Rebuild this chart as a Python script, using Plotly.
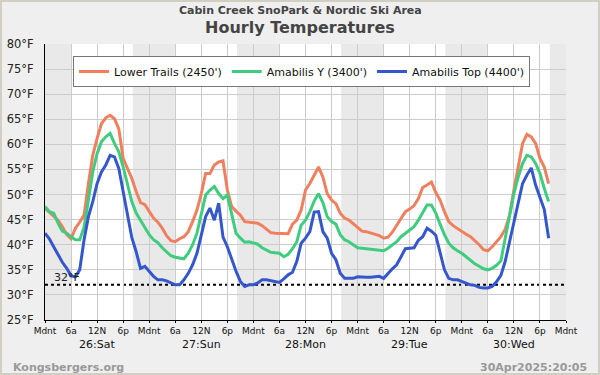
import pandas as pd
import plotly.graph_objects as go

# ---------------- data ----------------
start_time = "2025-04-26 00:00"
end_time = "2025-05-01 00:00"

lower_trails = [
    47.3, 46.5, 45.9, 44.9, 43.6, 42.0, 41.2, 43.3, 44.5, 45.9, 52.2, 57.8,
    61.2, 64.1, 65.3, 65.8, 65.1, 63.1, 57.2, 55.2, 53.2, 50.6, 48.4, 48.0,
    46.6, 45.3, 44.5, 43.3, 41.8, 40.8, 40.6, 41.2, 41.6, 42.6, 44.6, 46.9,
    50.2, 54.2, 54.2, 55.9, 56.5, 56.7, 50.9, 47.6, 46.7, 45.9, 44.6, 44.5,
    44.5, 44.3, 43.8, 43.1, 42.4, 42.3, 42.3, 42.2, 42.2, 44.1, 44.9, 46.9,
    50.9, 52.2, 53.9, 55.5, 53.5, 50.2, 48.9, 48.2, 46.3, 45.3, 44.9, 44.1,
    43.3, 42.7, 42.6, 42.3, 42.1, 41.8, 41.3, 41.5, 42.5, 43.8, 45.3, 46.6,
    47.1, 47.8, 49.2, 51.4, 51.9, 52.5, 50.4, 48.9, 46.6, 44.6, 43.8, 43.2,
    42.7, 42.1, 41.6, 40.8, 40.0, 39.0, 38.8, 39.6, 40.5, 41.6, 43.1, 45.9,
    50.9, 55.5, 60.2, 62.0, 61.5, 60.2, 57.2, 55.5, 52.2,
]
amabilis_y = [
    47.6, 46.6, 46.3, 44.3, 42.7, 42.3, 41.6, 41.0, 41.0, 43.5, 48.9, 54.5,
    58.2, 60.5, 61.5, 62.2, 60.2, 58.5, 55.5, 52.2, 48.6, 46.3, 44.9, 43.6,
    42.0, 41.0, 40.4, 39.4, 38.5, 37.8, 37.5, 37.3, 37.2, 38.3, 40.0, 42.3,
    46.3, 49.9, 50.9, 51.6, 50.2, 49.2, 49.9, 45.9, 42.3, 41.3, 40.5, 40.6,
    40.3, 40.1, 39.4, 38.9, 38.5, 38.4, 38.3, 37.6, 38.1, 39.2, 40.6, 43.9,
    44.9, 46.6, 48.7, 50.2, 48.4, 45.6, 44.6, 44.1, 42.0, 41.0, 40.6, 40.0,
    39.4, 39.3, 39.2, 39.0, 39.0, 38.9, 38.8, 39.3, 40.0, 40.6, 41.6, 42.3,
    42.9, 43.6, 44.9, 46.5, 47.9, 47.9, 46.3, 44.1, 42.0, 40.3, 39.4, 38.8,
    38.3, 37.6, 36.9, 36.2, 35.7, 35.2, 35.0, 35.3, 35.9, 36.8, 41.3, 45.9,
    50.2, 53.5, 56.2, 57.8, 57.5, 56.2, 54.2, 51.2, 48.6,
]
amabilis_top = [
    42.3, 41.2, 39.6, 38.0, 36.5, 35.3, 33.8, 33.6, 35.0, 41.0, 45.6, 48.6,
    52.2, 54.5, 55.9, 57.8, 57.5, 55.2, 50.6, 45.3, 41.4, 38.6, 35.3, 35.7,
    34.7, 33.7, 33.0, 33.0, 32.8, 32.4, 32.0, 32.0, 33.0, 34.3, 36.0, 38.3,
    42.3, 45.6, 47.3, 44.9, 48.3, 41.5, 39.6, 37.0, 34.7, 32.7, 31.7, 32.0,
    32.0, 32.4, 33.0, 33.0, 32.8, 32.7, 32.5, 33.2, 34.0, 34.5, 36.7, 40.3,
    41.3, 42.6, 46.5, 46.6, 42.6, 41.3, 38.3, 37.0, 34.3, 33.3, 33.3, 33.3,
    33.6, 33.5, 33.5, 33.5, 33.6, 33.7, 33.3, 34.3, 35.2, 36.0, 37.6, 39.2,
    39.3, 39.4, 40.9, 41.6, 43.3, 42.7, 41.9, 38.6, 35.0, 33.3, 33.0, 33.0,
    32.7, 32.4, 32.0, 31.9, 31.5, 31.4, 31.4, 31.7, 32.6, 33.9, 36.7, 40.6,
    44.7, 48.6, 52.2, 53.9, 55.3, 51.9, 49.6, 47.0, 41.3,
]

series_names = ["Lower Trails (2450')", "Amabilis Y (3400')", "Amabilis Top (4400')"]
series_colors = ["#F07F5E", "#40CC7F", "#3557CC"]

hour_tick_labels = ["Mdnt", "6a", "12N", "6p"]
day_labels = ["26:Sat", "27:Sun", "28:Mon", "29:Tue", "30:Wed"]
day_noons = ["2025-04-26 12:00", "2025-04-27 12:00", "2025-04-28 12:00",
             "2025-04-29 12:00", "2025-04-30 12:00"]
sunrises = ["2025-04-26 06:02", "2025-04-27 06:00", "2025-04-28 05:59",
            "2025-04-29 05:58", "2025-04-30 05:57"]
sunsets = ["2025-04-26 20:14", "2025-04-27 20:13", "2025-04-28 20:13",
           "2025-04-29 20:13", "2025-04-30 20:16"]
y_ticks = [25, 30, 35, 40, 45, 50, 55, 60, 65, 70, 75, 80]
freezing_f = 32

title_text = "Hourly Temperatures"
subtitle_text = "Cabin Creek SnoPark &amp; Nordic Ski Area"
site_text = "Kongsbergers.org"
stamp_text = "30Apr2025:20:05"

# ---------------- figure ----------------
times = pd.date_range(start_time, periods=len(lower_trails), freq="h")
tick_vals = pd.date_range(start_time, end_time, freq="6h")
tick_text = [hour_tick_labels[i % 4] for i in range(len(tick_vals))]

FONT = "DejaVu Sans"
W, H = 600, 375
ML, MR, MT, MB = 45, 34, 44, 55
PW, PH = W - ML - MR, H - MT - MB


def px_x(x):
    return (x - ML) / PW


def px_y(y):
    return (H - MB - y) / PH


fig = go.Figure()
for name, color, vals in zip(series_names, series_colors,
                             [lower_trails, amabilis_y, amabilis_top]):
    fig.add_trace(go.Scatter(x=times, y=vals, name=name, mode="lines",
                             line=dict(color=color, width=3)))

# night shading
night_starts = [start_time] + sunsets
night_ends = sunrises + [end_time]
for s, e in zip(night_starts, night_ends):
    fig.add_shape(type="rect", xref="x", yref="paper", x0=s, x1=e, y0=0, y1=1,
                  fillcolor="#E9E9E9", line=dict(width=0), layer="below")

# freezing line
fig.add_shape(type="line", xref="paper", yref="y", x0=0, x1=1,
              y0=freezing_f, y1=freezing_f,
              line=dict(color="black", width=2, dash="dot"), layer="between")
fig.add_annotation(xref="paper", yref="y", x=px_x(53), y=freezing_f,
                   xanchor="left", yanchor="bottom", showarrow=False,
                   text=f"{freezing_f}°F", font=dict(family=FONT, size=11, color="#222"),
                   borderpad=0)

# outer border
fig.add_shape(type="rect", xref="paper", yref="paper",
              x0=-ML / PW, x1=1 + MR / PW, y0=-MB / PH, y1=1 + MT / PH,
              line=dict(color="#D2CEC2", width=4), fillcolor="rgba(0,0,0,0)",
              layer="above")

# titles
fig.add_annotation(xref="paper", yref="paper", x=px_x(300), y=px_y(10.5),
                   xanchor="center", yanchor="middle", showarrow=False,
                   text=f"<b>{subtitle_text}</b>",
                   font=dict(family=FONT, size=11, color="#444444"))
fig.add_annotation(xref="paper", yref="paper", x=px_x(300), y=px_y(27.5),
                   xanchor="center", yanchor="middle", showarrow=False,
                   text=f"<b>{title_text}</b>",
                   font=dict(family=FONT, size=16, color="#444444"))

# day labels
for lab, noon in zip(day_labels, day_noons):
    fig.add_annotation(xref="x", yref="paper", x=noon, y=px_y(344),
                       xanchor="center", yanchor="middle", showarrow=False,
                       text=lab, font=dict(family=FONT, size=11, color="#111"))

# footer
fig.add_annotation(xref="paper", yref="paper", x=px_x(11), y=px_y(367),
                   xanchor="left", yanchor="middle", showarrow=False,
                   text=f"<b>{site_text}</b>",
                   font=dict(family=FONT, size=11, color="#999999"))
fig.add_annotation(xref="paper", yref="paper", x=px_x(589), y=px_y(367),
                   xanchor="right", yanchor="middle", showarrow=False,
                   text=f"<b>{stamp_text}</b>",
                   font=dict(family=FONT, size=11, color="#999999"))

fig.update_layout(
    width=W, height=H,
    margin=dict(l=ML, r=MR, t=MT, b=MB, pad=0, autoexpand=False),
    paper_bgcolor="#EFEFEF", plot_bgcolor="white",
    font=dict(family=FONT, color="#222"),
    showlegend=True,
    hovermode=False,
    legend=dict(orientation="h", x=px_x(73), y=px_y(56), xanchor="left",
                yanchor="top", bgcolor="white", bordercolor="#777777",
                borderwidth=1, font=dict(family=FONT, size=11, color="#111"),
                itemwidth=30, tracegroupgap=0),
    xaxis=dict(type="date", range=[start_time, end_time], tickmode="array",
               tickvals=tick_vals, ticktext=tick_text, showgrid=True,
               gridcolor="#CCCCCC", gridwidth=1, showline=True,
               linecolor="black", linewidth=1, ticks="outside", ticklen=2,
               tickcolor="black", zeroline=False, automargin=False,
               tickfont=dict(family=FONT, size=9, color="#111")),
    yaxis=dict(range=[25, 80], tickmode="array", tickvals=y_ticks,
               ticktext=[f"{v}°F" for v in y_ticks], showgrid=True,
               gridcolor="#CCCCCC", gridwidth=1, showline=True,
               linecolor="black", linewidth=1, ticks="", zeroline=False,
               ticklabelstandoff=8, automargin=False,
               tickfont=dict(family=FONT, size=11.5, color="#222")),
)

fig.write_html(
    "out.html",
    config={"displayModeBar": False},
    post_script="document.body.style.margin='0';document.body.style.overflow='hidden';",
)
